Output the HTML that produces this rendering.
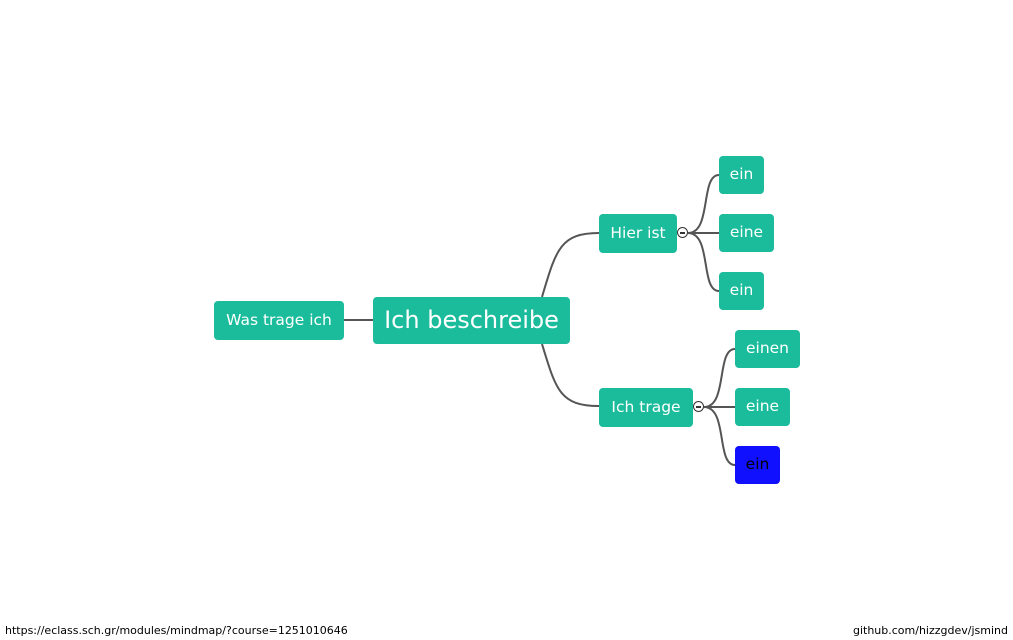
<!DOCTYPE html>
<html><head><meta charset="utf-8"><style>
body{margin:0;width:1013px;height:640px;background:#fff;position:relative;overflow:hidden;font-family:"DejaVu Sans","Liberation Sans",sans-serif}
.n{position:absolute;background:#1abc9c;color:#fff;border-radius:4px;display:flex;align-items:center;justify-content:center;font-size:15.5px;box-sizing:border-box;padding-bottom:2px}
.c{position:absolute;width:11px;height:11px;border:1px solid #333;border-radius:50%;background:#fff;box-sizing:border-box}
.c:after{content:"";position:absolute;left:2px;right:2px;top:3.5px;height:2px;background:#333}
.f{position:absolute;top:624px;font-size:11px;color:#000}
</style></head><body>
<svg width="1013" height="640" style="position:absolute;left:0;top:0" fill="none" stroke="#555" stroke-width="2">
<path d="M344 320 L373 320"/>
<path d="M542 297 C556 250,560 233,599 233"/>
<path d="M542 344 C556 390,560 406,599 406"/>
<path d="M688 233 C712 233,700 175,719 175"/>
<path d="M688 233 L719 233"/>
<path d="M688 233 C712 233,700 291,719 291"/>
<path d="M704 407 C728 407,716 349,735 349"/>
<path d="M704 407 L735 407"/>
<path d="M704 407 C728 407,716 465,735 465"/>
</svg>
<div class="n" style="left:214px;top:301px;width:130px;height:39px">Was trage ich</div>
<div class="n" style="left:373px;top:297px;width:197px;height:47px;font-size:24px">Ich beschreibe</div>
<div class="n" style="left:599px;top:214px;width:78px;height:39px">Hier ist</div>
<div class="c" style="left:677px;top:227px"></div>
<div class="n" style="left:719px;top:156px;width:45px;height:38px">ein</div>
<div class="n" style="left:719px;top:214px;width:55px;height:38px">eine</div>
<div class="n" style="left:719px;top:272px;width:45px;height:38px">ein</div>
<div class="n" style="left:599px;top:388px;width:94px;height:39px">Ich trage</div>
<div class="c" style="left:693px;top:401px"></div>
<div class="n" style="left:735px;top:330px;width:65px;height:38px">einen</div>
<div class="n" style="left:735px;top:388px;width:55px;height:38px">eine</div>
<div class="n" style="left:735px;top:446px;width:45px;height:38px;background:#1010ff;color:#000">ein</div>
<div class="f" style="left:5px">https://eclass.sch.gr/modules/mindmap/?course=1251010646</div>
<div class="f" style="right:5px">github.com/hizzgdev/jsmind</div>
</body></html>
